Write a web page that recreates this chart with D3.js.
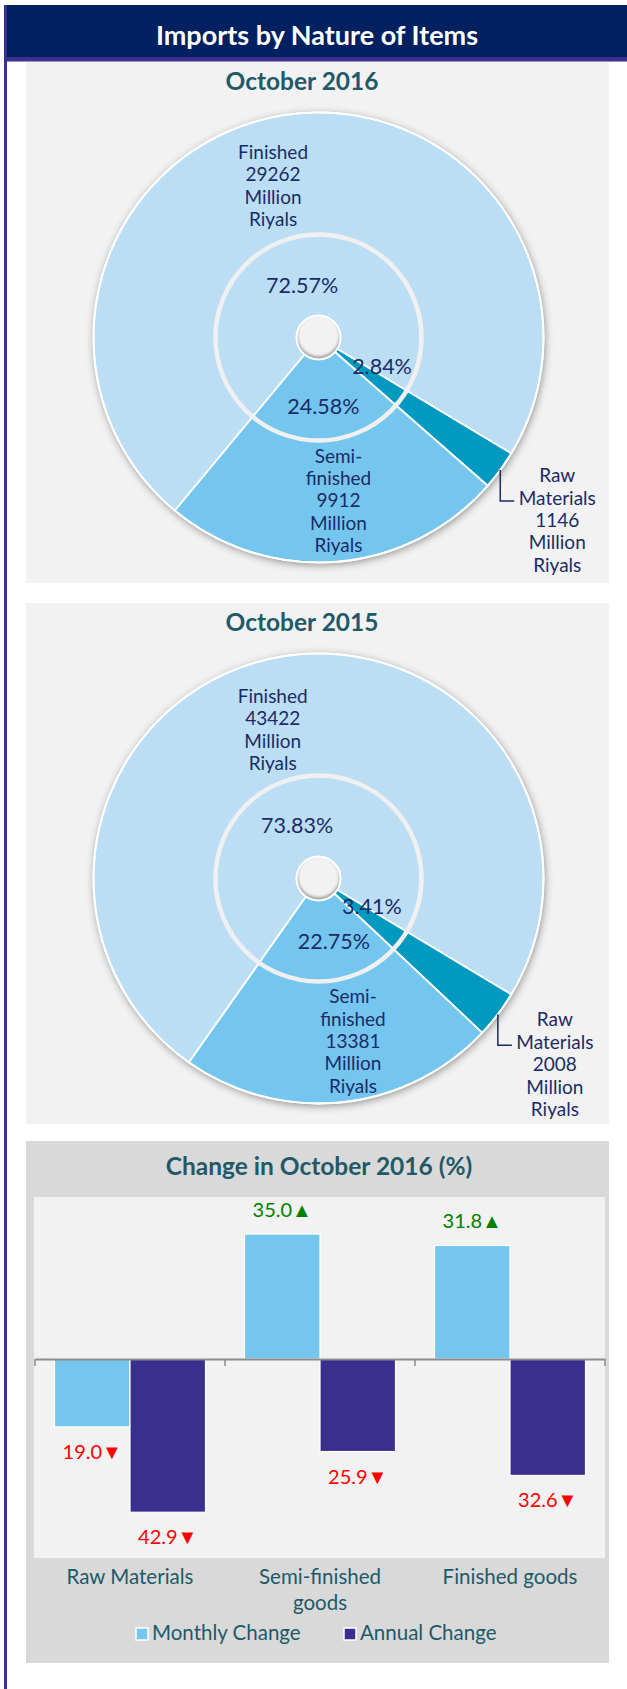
<!DOCTYPE html>
<html>
<head>
<meta charset="utf-8">
<script src="https://cdn.jsdelivr.net/npm/d3@7"></script>
<style>
  html, body { margin: 0; padding: 0; background: #ffffff; }
  svg { display: block; }
  text { font-family: Lato, "Open Sans", "Liberation Sans", sans-serif; }
</style>
</head>
<body>
<div id="chart"></div>
<script>
// ---------------- DATA ----------------
const mainTitle = "Imports by Nature of Items";
const pieTitles = ["October 2016", "October 2015"];
const pieCategories = ["Raw Materials", "Semi-finished", "Finished"];
const pieLabelNames = [["Raw", "Materials"], ["Semi-", "finished"], ["Finished"]];
const oct2016Values = [1146, 9912, 29262];
const oct2015Values = [2008, 13381, 43422];
const unitLines = ["Million", "Riyals"];

const barTitle = "Change in October 2016 (%)";
const barCategories = ["Raw Materials", "Semi-finished goods", "Finished goods"];
const barCategoryLines = [["Raw Materials"], ["Semi-finished", "goods"], ["Finished goods"]];
const seriesNames = ["Monthly Change", "Annual Change"];
const monthlyChange = [-19.0, 35.0, 31.8];
const annualChange = [-42.9, -25.9, -32.6];
const yTicks = [-50, 40];

// ---------------- STYLE / LAYOUT ----------------
const W = 627, H = 1689;
const pieColors = ["#0099C0", "#74C6EF", "#BBDEF5"];
const barColors = ["#74C6EF", "#3B2F8E"];
const navy = "#002060", purple = "#3B2F8F", teal = "#215968", labelNavy = "#1C2B66";
const panelX = 26, panelW = 583;
const pieOuterR = 225, pieRingR = 103, pieHoleR = 22;
const startDeg = 121;

// per-pie label nudges (px), order matches pieCategories
const pctNudge = [
  [[13, 0], [0, 13.7], [-6, 17.6]],
  [[3.6, -2.7], [9, 8.8], [-8.5, 16.1]]
];
const valNudge = [
  [[0, 0], [7, 6.5], [-18, 16.5]],
  [[0, 0], [18, 6.3], [-12, 18.6]]
];

const svg = d3.select("#chart").append("svg")
  .attr("width", W).attr("height", H)
  .attr("viewBox", `0 0 ${W} ${H}`);

const defs = svg.append("defs");
const f1 = defs.append("filter").attr("id", "pieShadow")
  .attr("x", "-20%").attr("y", "-20%").attr("width", "140%").attr("height", "140%");
f1.append("feDropShadow").attr("dx", 1).attr("dy", 2).attr("stdDeviation", 4)
  .attr("flood-color", "#000").attr("flood-opacity", 0.45);
const f2 = defs.append("filter").attr("id", "holeBlur");
f2.append("feGaussianBlur").attr("stdDeviation", 1.5);

// frame
svg.append("rect").attr("x", 7).attr("y", 5).attr("width", W - 7).attr("height", 52).attr("fill", navy);
svg.append("rect").attr("x", 4).attr("y", 5).attr("width", 3).attr("height", H - 5).attr("fill", purple);
svg.append("rect").attr("x", 4).attr("y", 57).attr("width", W - 4).attr("height", 4.5).attr("fill", purple);
svg.append("text").attr("x", 317).attr("y", 45).attr("text-anchor", "middle")
  .attr("fill", "#fff").attr("font-weight", "bold").attr("font-size", 27).text(mainTitle);

// ---------------- PIES ----------------
function drawPie(values, title, top, idx) {
  const g = svg.append("g");
  g.append("rect").attr("x", panelX).attr("y", top).attr("width", panelW).attr("height", 521).attr("fill", "#F2F2F2");
  g.append("text").attr("x", 302).attr("y", top + 28).attr("text-anchor", "middle")
    .attr("fill", teal).attr("font-weight", "bold").attr("font-size", 24.5).text(title);

  const cx = 318.5, cy = top + 275.5;
  const pg = g.append("g").attr("transform", `translate(${cx},${cy})`);
  const total = d3.sum(values);
  const pie = d3.pie().sort(null)
    .startAngle(startDeg * Math.PI / 180)
    .endAngle((startDeg + 360) * Math.PI / 180);
  const arcs = pie(values);
  const arc = d3.arc().innerRadius(0).outerRadius(pieOuterR);

  pg.append("circle").attr("r", pieOuterR).attr("fill", pieColors[2]).attr("filter", "url(#pieShadow)");
  pg.selectAll("path.slice").data(arcs).join("path").attr("class", "slice")
    .attr("d", arc).attr("fill", (d, i) => pieColors[i])
    .attr("stroke", "#fff").attr("stroke-width", 1.8).attr("stroke-linejoin", "round");
  pg.append("circle").attr("r", pieOuterR).attr("fill", "none").attr("stroke", "#fff").attr("stroke-width", 2);
  pg.append("circle").attr("r", pieRingR).attr("fill", "none").attr("stroke", "#F0F0F0").attr("stroke-width", 4.5);

  // hole
  const clipId = "holeClip" + idx;
  defs.append("clipPath").attr("id", clipId).append("circle").attr("r", pieHoleR).attr("cx", cx).attr("cy", cy);
  g.append("circle").attr("cx", cx).attr("cy", cy).attr("r", pieHoleR).attr("fill", "#F2F2F2");
  g.append("g").attr("clip-path", `url(#${clipId})`).append("circle")
    .attr("cx", cx).attr("cy", cy - 2).attr("r", pieHoleR + 1).attr("fill", "none")
    .attr("stroke", "#9a9a9a").attr("stroke-width", 4).attr("filter", "url(#holeBlur)");
  g.append("circle").attr("cx", cx).attr("cy", cy).attr("r", pieHoleR).attr("fill", "none")
    .attr("stroke", "#fff").attr("stroke-width", 2);

  // percentage labels
  const pctArc = d3.arc().innerRadius(pieHoleR).outerRadius(pieRingR);
  arcs.forEach((d, i) => {
    const c = pctArc.centroid(d);
    const n = pctNudge[idx][i];
    pg.append("text").attr("x", c[0] + n[0]).attr("y", c[1] + n[1])
      .attr("text-anchor", "middle").attr("fill", labelNavy).attr("font-size", 21.5)
      .text((d.data / total * 100).toFixed(2) + "%");
  });

  // value labels
  const valArc = d3.arc().innerRadius(pieRingR).outerRadius(pieOuterR);
  const lh = 22.4;
  arcs.forEach((d, i) => {
    const lines = pieLabelNames[i].concat([String(d.data)], unitLines);
    let x, firstBase;
    if (i === 0) {
      const mid = (d.startAngle + d.endAngle) / 2;
      const sx = pieOuterR * Math.sin(mid), sy = -pieOuterR * Math.cos(mid);
      const ey = sy + 31, ex = sx + 14;
      pg.append("path").attr("d", `M${sx},${sy}V${ey}H${ex}`)
        .attr("fill", "none").attr("stroke", labelNavy).attr("stroke-width", 1.5);
      x = ex + 43; firstBase = ey - 19;
    } else {
      const c = valArc.centroid(d);
      const n = valNudge[idx][i];
      x = c[0] + n[0];
      firstBase = c[1] + n[1] - (lines.length - 1) * lh / 2;
    }
    const t = pg.append("text").attr("text-anchor", "middle").attr("fill", labelNavy).attr("font-size", 19);
    lines.forEach((s, k) => t.append("tspan").attr("x", x).attr("y", firstBase + k * lh).text(s));
  });
}
drawPie(oct2016Values, pieTitles[0], 62, 0);
drawPie(oct2015Values, pieTitles[1], 603, 1);

// ---------------- BAR CHART ----------------
const bTop = 1141;
svg.append("rect").attr("x", panelX).attr("y", bTop).attr("width", panelW).attr("height", 522).attr("fill", "#D9D9D9");
svg.append("rect").attr("x", 34).attr("y", 1197).attr("width", 571).attr("height", 361).attr("fill", "#F2F2F2");
svg.append("text").attr("x", 319).attr("y", 1175).attr("text-anchor", "middle")
  .attr("fill", teal).attr("font-weight", "bold").attr("font-size", 24.5).text(barTitle);

const x0 = d3.scaleBand().domain(barCategories).range([35, 605]).padding(0);
const x1 = d3.scaleBand().domain(seriesNames).range([19.5, 170.5]).padding(0);
const y = d3.scaleLinear().domain(yTicks).range([1537.6, 1216.2]);

const barData = [];
barCategories.forEach((c, i) => {
  barData.push({ cat: c, s: seriesNames[0], v: monthlyChange[i], ci: 0 });
  barData.push({ cat: c, s: seriesNames[1], v: annualChange[i], ci: 1 });
});

svg.append("g").selectAll("rect").data(barData).join("rect")
  .attr("x", d => x0(d.cat) + x1(d.s))
  .attr("width", x1.bandwidth())
  .attr("y", d => Math.min(y(d.v), y(0)))
  .attr("height", d => Math.abs(y(d.v) - y(0)))
  .attr("fill", d => barColors[d.ci])
  .attr("stroke", "#fff").attr("stroke-width", 1.2);

// zero axis
const axisG = svg.append("g").attr("transform", `translate(0,${y(0)})`);
axisG.call(d3.axisBottom(x0).tickSize(0).tickFormat(""));
axisG.select(".domain").attr("stroke", "#8C8C8C").attr("stroke-width", 2);
const bounds = [35].concat(barCategories.map(c => x0(c) + x0.bandwidth()));
axisG.selectAll("line.bt").data(bounds).join("line").attr("class", "bt")
  .attr("x1", d => d).attr("x2", d => d).attr("y1", 0).attr("y2", 7)
  .attr("stroke", "#8C8C8C").attr("stroke-width", 1.5);

// value labels
svg.append("g").selectAll("text").data(barData).join("text")
  .attr("x", d => x0(d.cat) + x1(d.s) + x1.bandwidth() / 2)
  .attr("y", d => d.v >= 0 ? y(d.v) - 17 : y(d.v) + 32)
  .attr("text-anchor", "middle").attr("font-size", 20)
  .attr("fill", d => d.v >= 0 ? "#008000" : "#FF0000")
  .text(d => Math.abs(d.v).toFixed(1) + (d.v >= 0 ? "\u25B2" : "\u25BC"));

// category labels
barCategories.forEach((c, i) => {
  const t = svg.append("text").attr("text-anchor", "middle").attr("fill", teal).attr("font-size", 20.5);
  barCategoryLines[i].forEach((s, k) => t.append("tspan")
    .attr("x", x0(c) + x0.bandwidth() / 2).attr("y", 1584 + k * 26).text(s));
});

// legend
const legX = [136, 344];
seriesNames.forEach((s, i) => {
  svg.append("rect").attr("x", legX[i]).attr("y", 1628).attr("width", 12).attr("height", 12)
    .attr("fill", barColors[i]).attr("stroke", "#fff").attr("stroke-width", 1.5);
  svg.append("text").attr("x", legX[i] + 16).attr("y", 1640).attr("fill", teal)
    .attr("font-size", 20.5).text(s);
});
</script>
</body>
</html>
